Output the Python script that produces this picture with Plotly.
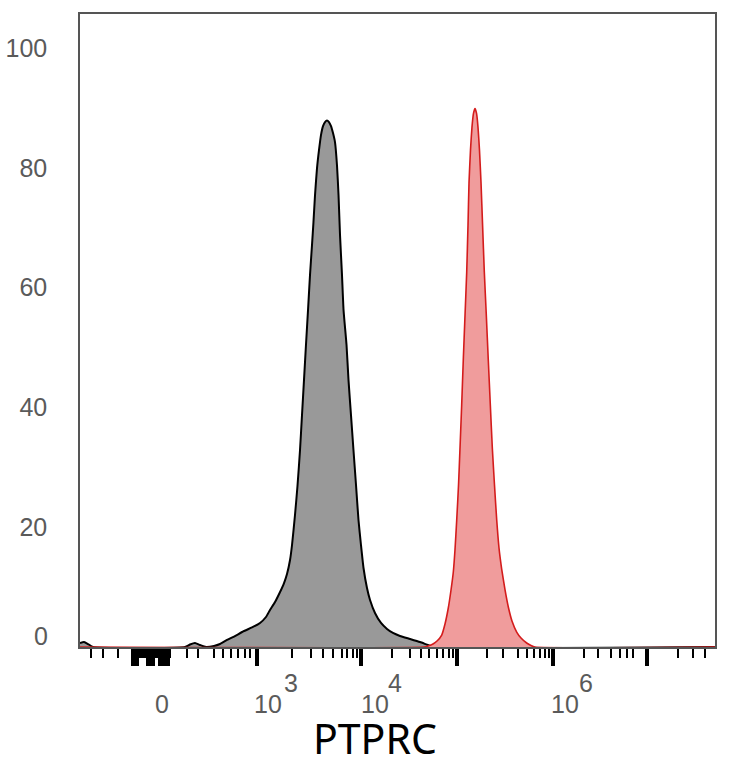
import plotly.graph_objects as go

# x in display channels (0-1024 across the plot), y in % of max
gray_x = [0, 6.5, 12.9, 21.0, 169.3, 177.4, 185.4, 193.5, 203.2, 216.1, 225.8, 237.1,
          248.4, 264.5, 277.4, 290.3, 299.9, 306.4, 314.5, 322.6, 329.0, 333.8, 338.7,
          341.9, 346.7, 350.7, 354.8, 358.0, 361.2, 364.4, 367.7, 370.9, 374.1, 376.5,
          379.0, 382.2, 385.4, 388.6, 391.9, 395.1, 398.3, 401.5, 404.8, 408.0, 411.2,
          414.4, 416.9, 419.3, 422.5, 425.0, 429.8, 433.0, 437.0, 441.0, 445.1, 449.1,
          453.1, 457.2, 462.8, 467.7, 475.7, 485.4, 495.1, 504.7, 516.0, 532.2, 548.3,
          561.2, 570.9, 1024]
gray_y = [0.67, 0.83, 0.50, 0, 0, 0.42, 0.67, 0.33, 0, 0.17, 0.50, 1.17,
          1.75, 2.67, 3.26, 4.01, 5.01, 6.18, 7.51, 9.18, 10.68, 12.19, 14.52,
          17.03, 22.04, 26.88, 32.89, 38.73, 44.57, 50.42, 56.26, 62.10, 67.11, 70.95,
          75.46, 79.97, 82.97, 85.48, 86.98, 87.65, 87.90, 87.65, 86.98, 85.81, 84.31,
          80.47, 75.46, 68.78, 62.10, 56.26, 50.42, 44.57, 38.73, 32.89, 27.05, 21.20,
          17.03, 13.19, 9.85, 7.85, 5.68, 4.01, 3.01, 2.34, 1.84, 1.34, 0.83,
          0.33, 0, 0]

red_x = [0, 554.7, 561.2, 569.2, 575.7, 583.3, 588.6, 593.9, 598.3, 602.0, 604.7, 607.5,
         610.4, 612.8, 615.5, 618.1, 620.9, 623.6, 625.7, 627.3, 629.7, 632.1, 634.6,
         637.0, 639.4, 641.8, 644.2, 646.7, 649.2, 652.0, 655.2, 658.4, 661.7, 664.9,
         668.4, 672.0, 675.7, 680.0, 685.4, 690.7, 696.6, 704.2, 711.2, 720.3, 727.3,
         733.7, 1024]
red_y = [0, 0, 0.17, 0.50, 1.00, 2.00, 3.84, 6.51, 9.52, 12.52, 16.19, 21.20,
         27.05, 33.22, 40.40, 47.91, 55.43, 62.60, 70.45, 77.46, 82.97, 86.81, 89.15,
         89.90, 89.15, 86.81, 82.97, 77.46, 70.45, 62.60, 55.43, 47.91, 40.40, 33.22,
         27.05, 21.20, 16.53, 13.02, 9.52, 6.68, 4.34, 2.50, 1.50, 0.67, 0.25,
         0, 0]

major_ticks = [85.5, 88.7, 91.9, 108.9, 112.1, 115.3, 117.7,
               129.8, 133.0, 136.3, 139.5, 142.7,
               285.4, 453.1, 608.0, 762.8, 914.3]
minor_ticks = [17.7, 37.1, 61.3,
               83.9, 87.1, 90.3, 93.5, 96.8, 100.0, 103.2, 106.4, 109.7, 112.9,
               116.1, 119.3, 122.6, 125.8, 129.0, 132.2, 135.5, 138.7, 141.9, 145.1,
               172.5, 190.3, 216.1, 230.6, 243.5, 254.8, 266.1, 274.1,
               341.4, 372.0, 391.9, 408.0, 422.0, 430.5, 440.2, 446.7,
               503.1, 532.2, 549.4, 562.7, 575.2, 585.3, 595.0, 601.5,
               655.8, 682.1, 705.8, 720.3, 732.1, 741.8, 749.9, 756.3,
               812.8, 835.3, 856.3, 870.8, 881.6, 891.8,
               964.1, 988.3, 1007.6]

y_ticks = [20, 40, 60, 80, 100]

# decade labels: (x of "10", x of exponent, exponent)
x_labels = [(303.2, 340.3, "3"), (475.7, 508.0, "4"), (782.1, 816.0, "6")]
zero_label_x = 132.2

label_font = dict(family="Liberation Sans, Arial", size=25, color="#5a5a5a")

fig = go.Figure()

fig.add_trace(go.Scatter(
    x=gray_x, y=gray_y, mode="lines", fill="tozeroy",
    fillcolor="#999999", line=dict(color="black", width=2, shape="spline", smoothing=0.5),
    showlegend=False,
))
fig.add_trace(go.Scatter(
    x=red_x, y=red_y, mode="lines", fill="tozeroy",
    fillcolor="#f09c9c", line=dict(color="#d41c1c", width=1.6, shape="spline", smoothing=0.5),
    showlegend=False,
))

annotations = [dict(x=zero_label_x, y=-0.090, xref="x", yref="paper", text="0",
                    showarrow=False, font=label_font, xanchor="center", yanchor="middle")]
for base_x, exp_x, exp in x_labels:
    annotations.append(dict(x=base_x, y=-0.090, xref="x", yref="paper", text="10",
                            showarrow=False, font=label_font, xanchor="center", yanchor="middle",
                            borderpad=0))
    annotations.append(dict(x=exp_x, y=-0.057, xref="x", yref="paper", text=exp,
                            showarrow=False, font=label_font, xanchor="center", yanchor="middle"))
# y "0" sits a little above the baseline
annotations.append(dict(x=0, y=1.84, xref="paper", yref="y", text="0", showarrow=False,
                        font=label_font, xanchor="right", yanchor="middle", xshift=-30))
annotations.append(dict(x=0.4646, y=-0.1445, xref="paper", yref="paper", text="PTPRC",
                        showarrow=False, xanchor="center", yanchor="middle", borderpad=0,
                        font=dict(family="Noto Sans, Open Sans", size=41, color="black")))

fig.update_layout(
    width=734, height=768,
    margin=dict(l=80, r=19, t=14, b=121),
    paper_bgcolor="white", plot_bgcolor="white",
    annotations=annotations,
)

fig.update_xaxes(
    range=[0, 1024], showgrid=False, zeroline=False, automargin=False,
    showline=True, linecolor="#555555", linewidth=1.5, mirror=True,
    tickmode="array", tickvals=major_ticks, ticktext=[""] * len(major_ticks),
    ticks="outside", ticklen=17, tickwidth=3.5, tickcolor="black",
    minor=dict(tickmode="array", tickvals=minor_ticks, ticks="outside",
               ticklen=9, tickwidth=2, tickcolor="black", showgrid=False),
)
fig.update_yaxes(
    range=[0, 105.7], showgrid=False, zeroline=False, automargin=False,
    showline=True, linecolor="#555555", linewidth=1.5, mirror=True,
    tickmode="array", tickvals=y_ticks, ticks="", ticklabelstandoff=26,
    tickfont=label_font,
)

fig.write_html("out.html", config=dict(displayModeBar=False),
               post_script="document.body.style.margin='0';")
